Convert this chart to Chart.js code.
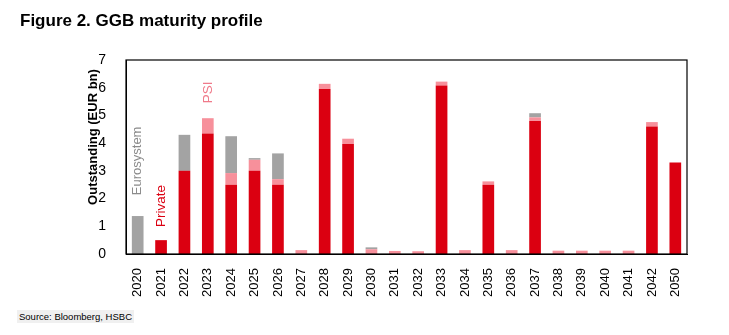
<!DOCTYPE html>
<html>
<head>
<meta charset="utf-8">
<script src="https://cdn.jsdelivr.net/npm/chart.js@4"></script>
<style>
  body { margin: 0; background: #fff; font-family: "Liberation Sans", Arial, sans-serif; }
  #wrap { position: relative; width: 729px; height: 335px; }
  #title { position: absolute; left: 20px; top: 11px; font-weight: bold; font-size: 17px; color: #000; }
  #source { position: absolute; left: 17px; top: 310px; font-size: 9.5px; color: #000; background: #f0f0f0; padding: 1px 2px; }
  canvas { position: absolute; left: 0; top: 0; }
</style>
</head>
<body>
<div id="wrap">
  <canvas id="chart" width="729" height="335"></canvas>
  <div id="title">Figure 2. GGB maturity profile</div>
  <div id="source">Source: Bloomberg, HSBC</div>
</div>
<script>
// maturity years and outstanding amounts (EUR bn)
const years = ['2020', '2021', '2022', '2023', '2024', '2025', '2026', '2027', '2028', '2029', '2030', '2031',
               '2032', '2033', '2034', '2035', '2036', '2037', '2038', '2039', '2040', '2041', '2042', '2050'];
const privateVals = [0, 0.5, 3.0, 4.35, 2.5, 3.0, 2.5, 0, 5.95, 3.97, 0, 0, 0, 6.08, 0, 2.5, 0, 4.8, 0, 0, 0, 0, 4.6, 3.3];
const psiVals = [0, 0, 0, 0.55, 0.42, 0.4, 0.2, 0.14, 0.19, 0.19, 0.17, 0.11, 0.1, 0.14, 0.14, 0.12, 0.14, 0.13, 0.12, 0.12, 0.12, 0.12, 0.16, 0];
const euroVals = [1.37, 0, 1.3, 0, 1.33, 0.06, 0.93, 0, 0, 0, 0.07, 0, 0, 0, 0, 0, 0, 0.15, 0, 0, 0, 0, 0, 0];
const yTicks = [0, 1, 2, 3, 4, 5, 6, 7];

const RED = '#DB0011', PINK = '#F7909B', GREY = '#A3A3A3';
const FONT = '"Liberation Sans", Arial, sans-serif';

// labels placed next to the first bars, plus the box around the plot
const extras = {
    id: 'extras',
    afterDraw(chart) {
        const { ctx, chartArea: a, scales: { x, y } } = chart;
        ctx.save();
        ctx.strokeStyle = '#000';
        ctx.lineWidth = 1.2;
        ctx.strokeRect(a.left, a.top, a.right - a.left, a.bottom - a.top);

        const vtext = (txt, px, py, color, font) => {
            ctx.save();
            ctx.translate(px, py);
            ctx.rotate(-Math.PI / 2);
            ctx.fillStyle = color;
            ctx.font = font;
            ctx.textAlign = 'center';
            ctx.textBaseline = 'middle';
            ctx.fillText(txt, 0, 0);
            ctx.restore();
        };
        vtext('Eurosystem', x.getPixelForValue(0), y.getPixelForValue(3.36), '#8C8C8C', '13px ' + FONT);
        vtext('Private', x.getPixelForValue(1), y.getPixelForValue(1.73), RED, '13.5px ' + FONT);
        vtext('PSI', x.getPixelForValue(3), y.getPixelForValue(5.83), '#F07A8A', '13.5px ' + FONT);
        vtext('Outstanding (EUR bn)', 93, 137, '#000', 'bold 13px ' + FONT);
        ctx.restore();
    }
};

new Chart(document.getElementById('chart'), {
    type: 'bar',
    data: {
        labels: years,
        datasets: [
            { label: 'Private', data: privateVals, backgroundColor: RED },
            { label: 'PSI', data: psiVals, backgroundColor: PINK },
            { label: 'Eurosystem', data: euroVals, backgroundColor: GREY }
        ]
    },
    options: {
        responsive: false,
        animation: false,
        layout: { padding: { left: 0, right: 42, top: 60, bottom: 0 } },
        datasets: { bar: { categoryPercentage: 1, barPercentage: 0.5 } },
        plugins: { legend: { display: false }, tooltip: { enabled: false } },
        scales: {
            x: {
                stacked: true,
                grid: { display: false },
                border: { color: '#000' },
                ticks: { color: '#000', font: { size: 13, family: FONT }, minRotation: 90, maxRotation: 90, padding: 6 },
                afterFit(s) { s.height = 81; }
            },
            y: {
                stacked: true,
                min: 0, max: 7,
                afterBuildTicks(s) { s.ticks = yTicks.map(v => ({ value: v })); },
                grid: { display: false },
                border: { color: '#000' },
                ticks: { color: '#000', font: { size: 14, family: FONT }, padding: 12 },
                afterFit(s) { s.width = 126; }
            }
        }
    },
    plugins: [extras]
});
</script>
</body>
</html>
